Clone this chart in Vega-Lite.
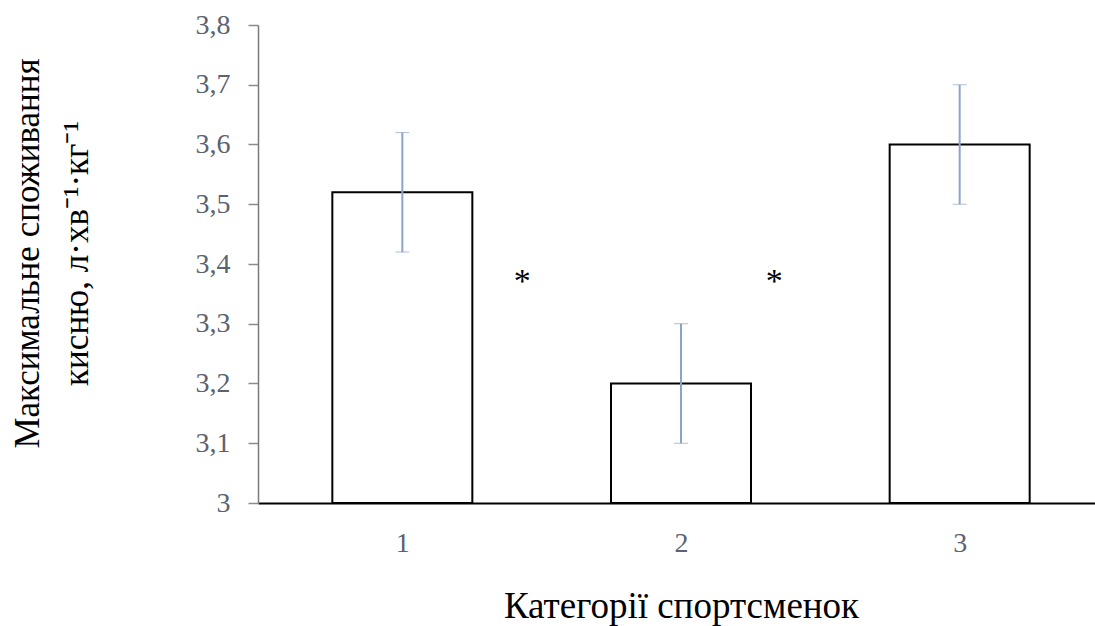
{
  "$schema": "https://vega.github.io/schema/vega-lite/v6.json",
  "autosize": "none",
  "width": 846,
  "height": 478,
  "padding": {"left": 258, "top": 25, "right": 0, "bottom": 123},
  "background": "white",
  "config": {"aria": false, "view": {"stroke": null}, "font": "Liberation Serif", "style": {"guide-title": {"lineBreak": "\n"}}},
  "datasets": {
    "bars": [
      {"cat": 1, "value": 3.52, "lo": 3.42, "hi": 3.62},
      {"cat": 2, "value": 3.2, "lo": 3.1, "hi": 3.3},
      {"cat": 3, "value": 3.6, "lo": 3.5, "hi": 3.7}
    ],
    "stars": [
      {"pos": 1.43, "y": 3.37, "label": "*"},
      {"pos": 2.335, "y": 3.37, "label": "*"}
    ]
  },
  "layer": [
    {
      "data": {"name": "bars"},
      "mark": {"type": "bar", "aria": false, "size": 140, "fill": "white", "stroke": "black", "strokeWidth": 2},
      "encoding": {
        "x": {
          "field": "cat", "type": "quantitative",
          "title": "Категорії спортсменок",
          "scale": {"domain": [0.5, 3.5], "nice": false, "zero": false},
          "axis": {
            "values": [1, 2, 3], "format": "d", "grid": false, "ticks": false,
            "domainColor": "black", "domainWidth": 2,
            "labelFont": "Liberation Serif", "labelFontSize": 28, "labelColor": "#5b6270",
            "labelPadding": 26,
            "titleFont": "Liberation Serif", "titleFontSize": 37, "titleFontWeight": "normal",
            "titleColor": "black", "titleX": 423, "titleY": 114, "titleBaseline": "alphabetic",
            "titleAlign": "center"
          }
        },
        "y": {
          "field": "value", "type": "quantitative",
          "title": "Максимальне споживання\nкисню, л·хв⁻¹·кг⁻¹",
          "scale": {"domain": [3, 3.8], "nice": false, "zero": false},
          "axis": {
            "values": [3, 3.1, 3.2, 3.3, 3.4, 3.5, 3.6, 3.7, 3.8],
            "labelExpr": "datum.value == 3 ? '3' : replace(format(datum.value, '.1f'), '.', ',')",
            "grid": false, "tickSize": 10, "tickColor": "#8a8a8a", "tickWidth": 1.5,
            "domainColor": "#7a7a7a", "domainWidth": 1.5,
            "labelFont": "Liberation Serif", "labelFontSize": 28, "labelColor": "#5b6270",
            "labelPadding": 18,
            "titleFont": "Liberation Serif", "titleFontSize": 35, "titleFontWeight": "normal",
            "titleColor": "black", "titleAngle": -90, "titleAlign": "center",
            "titleBaseline": "alphabetic", "titleLineHeight": 49,
            "titleX": -220, "titleY": 228
          }
        },
        "y2": {"datum": 3}
      }
    },
    {
      "data": {"name": "bars"},
      "mark": {"type": "errorbar", "ticks": {"size": 14, "color": "#8aa4c8", "strokeWidth": 2, "aria": false}, "rule": {"color": "#8aa4c8", "strokeWidth": 2, "aria": false}},
      "encoding": {
        "x": {"field": "cat", "type": "quantitative", "title": "Категорії спортсменок"},
        "y": {"field": "lo", "type": "quantitative", "title": "Максимальне споживання\nкисню, л·хв⁻¹·кг⁻¹"},
        "y2": {"field": "hi"}
      }
    },
    {
      "data": {"name": "stars"},
      "mark": {"type": "text", "aria": false, "fontSize": 34, "font": "Liberation Serif", "color": "black", "baseline": "middle", "align": "center"},
      "encoding": {
        "x": {"field": "pos", "type": "quantitative", "title": "Категорії спортсменок"},
        "y": {"field": "y", "type": "quantitative", "title": "Максимальне споживання\nкисню, л·хв⁻¹·кг⁻¹"},
        "text": {"field": "label"}
      }
    }
  ]
}
